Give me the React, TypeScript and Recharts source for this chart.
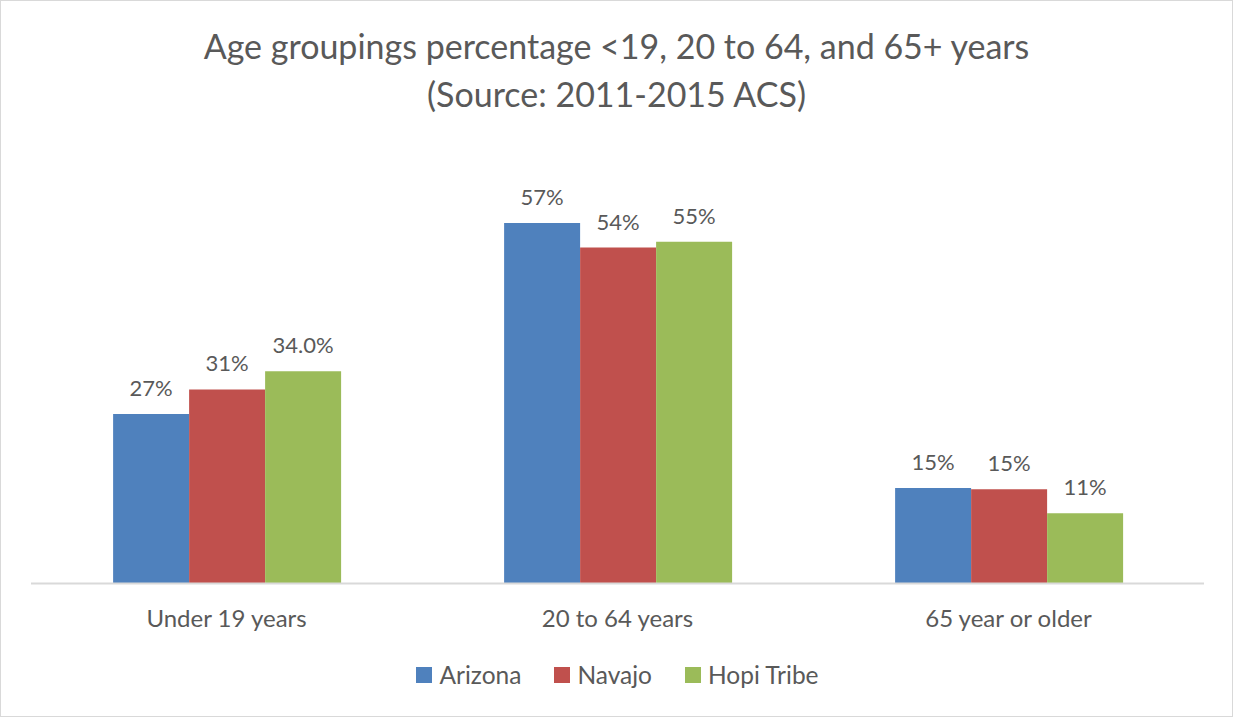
import { BarChart, Bar, XAxis, YAxis, Legend, LabelList } from "recharts";

const categories = ["Under 19 years", "20 to 64 years", "65 year or older"];
const arizona = [27.0, 57.4, 15.2];
const navajo = [30.9, 53.5, 15.0];
const hopi = [33.8, 54.4, 11.2];
const arizonaLabels = ["27%", "57%", "15%"];
const navajoLabels = ["31%", "54%", "15%"];
const hopiLabels = ["34.0%", "55%", "11%"];

const data = categories.map((name, i) => ({
  name,
  arizona: arizona[i],
  navajo: navajo[i],
  hopi: hopi[i],
  arizonaLabel: arizonaLabels[i],
  navajoLabel: navajoLabels[i],
  hopiLabel: hopiLabels[i],
}));

const FONT = "Lato, 'Open Sans', sans-serif";
const TEXT = "#595959";

const series = [
  { key: "arizona", name: "Arizona", color: "#4F81BD" },
  { key: "navajo", name: "Navajo", color: "#C0504D" },
  { key: "hopi", name: "Hopi Tribe", color: "#9BBB59" },
];

const LegendContent = () => (
  <div style={{ display: "flex", justifyContent: "center", gap: 33, fontFamily: FONT, fontSize: 24.5, color: TEXT, marginTop: 1 }}>
    {series.map((s) => (
      <div key={s.key} style={{ display: "flex", alignItems: "center" }}>
        <span style={{ width: 16, height: 16, background: s.color, marginRight: 7, display: "inline-block" }} />
        <span>{s.name}</span>
      </div>
    ))}
  </div>
);

export default function App() {
  return (
    <div
      style={{
        position: "absolute",
        left: 0,
        top: 0,
        width: 1231,
        height: 715,
        border: "1px solid #D9D9D9",
        background: "#fff",
      }}
    >
      <div
        style={{
          position: "absolute",
          top: 21,
          left: 0,
          width: "100%",
          textAlign: "center",
          fontFamily: FONT,
          fontSize: 34,
          lineHeight: "48px",
          color: TEXT,
        }}
      >
        Age groupings percentage &lt;19, 20 to 64, and 65+ years
        <br />
        (Source: 2011-2015 ACS)
      </div>
      <BarChart
        width={1231}
        height={715}
        data={data}
        margin={{ top: 205.7, right: 28, left: 30, bottom: 27 }}
        barCategoryGap="21%"
        barGap={0}
      >
        <XAxis
          dataKey="name"
          axisLine={{ stroke: "#D9D9D9", strokeWidth: 2 }}
          tickLine={false}
          tickSize={0}
          tickMargin={26}
          height={75.5}
          tick={{ fill: TEXT, fontSize: 24, fontFamily: FONT }}
        />
        <YAxis hide domain={[0, 60]} />
        <Legend verticalAlign="bottom" height={30} content={<LegendContent />} />
        {series.map((s) => (
          <Bar key={s.key} dataKey={s.key} name={s.name} fill={s.color} isAnimationActive={false}>
            <LabelList
              dataKey={`${s.key}Label`}
              position="top"
              offset={18}
              style={{ fill: TEXT, fontSize: 22, fontFamily: FONT }}
            />
          </Bar>
        ))}
      </BarChart>
    </div>
  );
}
